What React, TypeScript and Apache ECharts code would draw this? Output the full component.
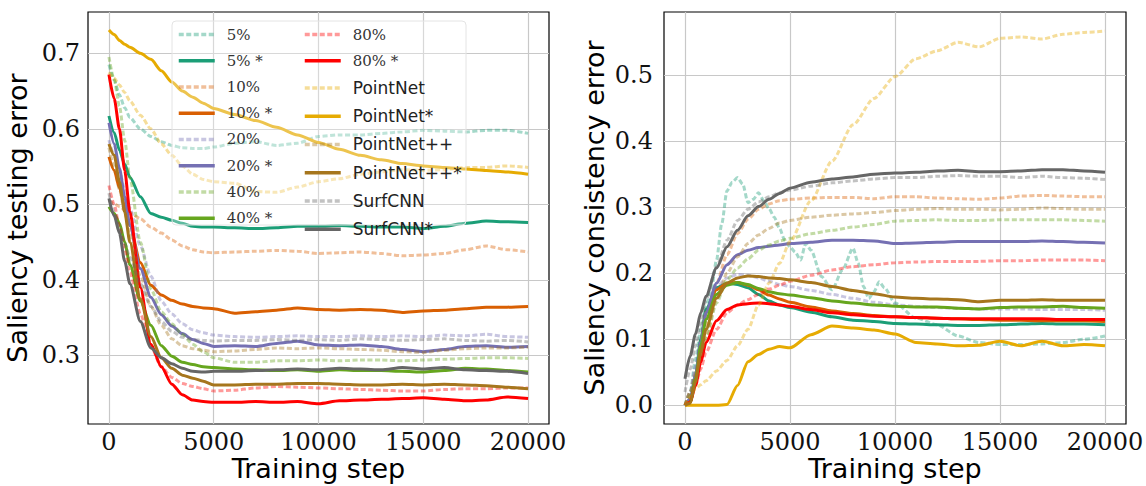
import React, { useEffect, useRef } from "react";
import * as echarts from "echarts";

// Training steps at which the curves are sampled
const STEPS = [
  0, 250, 500, 750, 1000, 1500, 2000, 2500, 3000, 3500, 4000, 4500, 5000, 6000, 7000, 8000,
  9000, 10000, 11000, 12000, 13000, 14000, 15000, 16000, 17000, 18000, 19000, 20000,
];
// Denser sampling for the oscillating 5% consistency curve
const STEPS_FINE = [
  0, 250, 500, 750, 1000, 1250, 1500, 1750, 2000, 2250, 2500, 2750, 3000, 3250, 3500, 3750,
  4000, 4250, 4500, 4750, 5000, 5250, 5500, 5750, 6000, 6500, 7000, 7500, 8000, 8250, 8500,
  8750, 9000, 9250, 9500, 10000, 11000, 12000, 13000, 14000, 15000, 16000, 17000, 18000,
  19000, 20000,
];

const X_TICKS = [0, 5000, 10000, 15000, 20000];
const Y_TICKS_TEST = [0.3, 0.4, 0.5, 0.6, 0.7];
const Y_TICKS_CONS = [0, 0.1, 0.2, 0.3, 0.4, 0.5];

const NAMES = [
  "5%", "5% *", "10%", "10% *", "20%", "20% *", "40%", "40% *",
  "80%", "80% *", "PointNet", "PointNet*", "PointNet++", "PointNet++*", "SurfCNN", "SurfCNN*",
];

// Saliency testing error
const TEST_5 = [0.685, 0.665, 0.645, 0.628, 0.615, 0.6, 0.59, 0.583, 0.578, 0.575, 0.574, 0.574, 0.576, 0.581, 0.583, 0.578, 0.581, 0.59, 0.592, 0.592, 0.594, 0.596, 0.598, 0.597, 0.596, 0.598, 0.598, 0.594];
const TEST_5S = [0.617, 0.595, 0.572, 0.553, 0.536, 0.51, 0.488, 0.483, 0.479, 0.475, 0.471, 0.47, 0.47, 0.469, 0.468, 0.469, 0.471, 0.471, 0.472, 0.471, 0.47, 0.47, 0.468, 0.471, 0.475, 0.478, 0.477, 0.476];
const TEST_10 = [0.505, 0.501, 0.497, 0.493, 0.489, 0.481, 0.47, 0.462, 0.453, 0.445, 0.44, 0.437, 0.436, 0.437, 0.438, 0.439, 0.438, 0.435, 0.436, 0.437, 0.435, 0.432, 0.433, 0.435, 0.44, 0.445, 0.44, 0.437];
const TEST_10S = [0.563, 0.545, 0.522, 0.498, 0.472, 0.423, 0.393, 0.38, 0.373, 0.368, 0.365, 0.363, 0.362, 0.356, 0.358, 0.36, 0.363, 0.361, 0.36, 0.361, 0.36, 0.357, 0.359, 0.36, 0.362, 0.364, 0.364, 0.365];
const TEST_20 = [0.585, 0.565, 0.545, 0.52, 0.495, 0.445, 0.405, 0.372, 0.355, 0.342, 0.334, 0.33, 0.327, 0.325, 0.324, 0.325, 0.326, 0.325, 0.325, 0.326, 0.325, 0.326, 0.325, 0.327, 0.326, 0.328, 0.325, 0.324];
const TEST_20S = [0.608, 0.58, 0.548, 0.51, 0.472, 0.415, 0.377, 0.354, 0.339, 0.329, 0.321, 0.316, 0.312, 0.313, 0.312, 0.316, 0.319, 0.314, 0.313, 0.314, 0.312, 0.308, 0.305, 0.308, 0.312, 0.313, 0.311, 0.312];
const TEST_40 = [0.695, 0.665, 0.63, 0.585, 0.535, 0.45, 0.388, 0.358, 0.342, 0.328, 0.315, 0.305, 0.297, 0.291, 0.291, 0.293, 0.293, 0.294, 0.293, 0.294, 0.294, 0.293, 0.294, 0.295, 0.296, 0.297, 0.297, 0.296];
const TEST_40S = [0.497, 0.488, 0.475, 0.45, 0.42, 0.372, 0.34, 0.313, 0.299, 0.291, 0.288, 0.285, 0.284, 0.282, 0.281, 0.28, 0.281, 0.279, 0.281, 0.28, 0.28, 0.279, 0.278, 0.28, 0.283, 0.282, 0.28, 0.278];
const TEST_80 = [0.525, 0.5, 0.47, 0.44, 0.41, 0.355, 0.312, 0.285, 0.271, 0.263, 0.259, 0.256, 0.253, 0.254, 0.257, 0.259, 0.258, 0.257, 0.256, 0.255, 0.254, 0.253, 0.253, 0.255, 0.256, 0.256, 0.257, 0.257];
const TEST_80S = [0.672, 0.64, 0.6, 0.545, 0.49, 0.39, 0.315, 0.285, 0.262, 0.248, 0.241, 0.239, 0.238, 0.238, 0.239, 0.238, 0.239, 0.236, 0.24, 0.241, 0.242, 0.243, 0.244, 0.242, 0.24, 0.241, 0.245, 0.243];
const TEST_PN = [0.675, 0.667, 0.658, 0.648, 0.637, 0.618, 0.6, 0.58, 0.565, 0.551, 0.54, 0.533, 0.53, 0.528, 0.517, 0.516, 0.523, 0.53, 0.534, 0.54, 0.543, 0.546, 0.545, 0.546, 0.549, 0.549, 0.551, 0.549];
const TEST_PNS = [0.731, 0.725, 0.717, 0.712, 0.708, 0.7, 0.692, 0.677, 0.662, 0.65, 0.642, 0.634, 0.627, 0.619, 0.611, 0.602, 0.592, 0.582, 0.573, 0.565, 0.559, 0.554, 0.551, 0.549, 0.547, 0.545, 0.543, 0.54];
const TEST_PNPP = [0.575, 0.55, 0.52, 0.49, 0.46, 0.405, 0.365, 0.34, 0.322, 0.313, 0.309, 0.307, 0.305, 0.306, 0.308, 0.31, 0.309, 0.31, 0.309, 0.308, 0.307, 0.305, 0.304, 0.307, 0.309, 0.31, 0.31, 0.311];
const TEST_PNPPS = [0.58, 0.565, 0.53, 0.49, 0.45, 0.375, 0.325, 0.297, 0.283, 0.274, 0.27, 0.266, 0.261, 0.261, 0.262, 0.262, 0.263, 0.263, 0.262, 0.261, 0.261, 0.262, 0.261, 0.262, 0.261, 0.26, 0.258, 0.256];
const TEST_SURF = [0.515, 0.49, 0.468, 0.448, 0.43, 0.395, 0.365, 0.345, 0.332, 0.324, 0.321, 0.32, 0.319, 0.32, 0.32, 0.321, 0.32, 0.321, 0.32, 0.322, 0.321, 0.32, 0.321, 0.322, 0.32, 0.319, 0.32, 0.318];
const TEST_SURFS = [0.508, 0.485, 0.462, 0.425, 0.395, 0.345, 0.31, 0.297, 0.289, 0.283, 0.279, 0.278, 0.279, 0.279, 0.28, 0.281, 0.282, 0.281, 0.283, 0.282, 0.281, 0.284, 0.282, 0.284, 0.281, 0.28, 0.279, 0.276];

// Saliency consistency error
const CONS_5 = [0, 0.02, 0.07, 0.115, 0.15, 0.175, 0.22, 0.275, 0.325, 0.338, 0.345, 0.335, 0.307, 0.312, 0.322, 0.31, 0.298, 0.285, 0.268, 0.25, 0.24, 0.232, 0.22, 0.245, 0.235, 0.195, 0.175, 0.205, 0.238, 0.215, 0.18, 0.162, 0.172, 0.187, 0.178, 0.155, 0.132, 0.122, 0.105, 0.095, 0.092, 0.092, 0.093, 0.095, 0.1, 0.105];
const CONS_5S = [0, 0.005, 0.045, 0.1, 0.145, 0.178, 0.185, 0.183, 0.178, 0.168, 0.158, 0.152, 0.148, 0.141, 0.134, 0.129, 0.127, 0.124, 0.123, 0.122, 0.121, 0.121, 0.122, 0.123, 0.124, 0.123, 0.123, 0.122];
const CONS_10 = [0, 0.02, 0.05, 0.085, 0.12, 0.185, 0.228, 0.26, 0.282, 0.297, 0.305, 0.31, 0.312, 0.314, 0.315, 0.315, 0.313, 0.316, 0.316, 0.314, 0.313, 0.312, 0.314, 0.317, 0.318, 0.317, 0.316, 0.316];
const CONS_10S = [0, 0.005, 0.04, 0.095, 0.14, 0.175, 0.185, 0.186, 0.182, 0.175, 0.167, 0.161, 0.156, 0.149, 0.143, 0.139, 0.136, 0.134, 0.133, 0.132, 0.131, 0.13, 0.129, 0.129, 0.128, 0.128, 0.128, 0.127];
const CONS_20 = [0, 0.02, 0.06, 0.1, 0.14, 0.18, 0.193, 0.198, 0.197, 0.193, 0.188, 0.183, 0.18, 0.174, 0.168, 0.162, 0.156, 0.152, 0.15, 0.148, 0.147, 0.146, 0.146, 0.146, 0.145, 0.145, 0.145, 0.144];
const CONS_20S = [0, 0.01, 0.045, 0.095, 0.14, 0.185, 0.213, 0.228, 0.235, 0.239, 0.241, 0.243, 0.245, 0.247, 0.25, 0.25, 0.249, 0.245, 0.246, 0.247, 0.248, 0.248, 0.248, 0.248, 0.249, 0.248, 0.247, 0.246];
const CONS_40 = [0, 0.015, 0.04, 0.07, 0.1, 0.155, 0.19, 0.208, 0.222, 0.235, 0.243, 0.249, 0.253, 0.26, 0.265, 0.27, 0.274, 0.279, 0.28, 0.281, 0.28, 0.28, 0.281, 0.281, 0.281, 0.281, 0.28, 0.279];
const CONS_40S = [0, 0.005, 0.04, 0.09, 0.13, 0.168, 0.182, 0.186, 0.183, 0.177, 0.172, 0.169, 0.167, 0.163, 0.158, 0.155, 0.152, 0.15, 0.149, 0.149, 0.147, 0.146, 0.148, 0.149, 0.149, 0.15, 0.148, 0.147];
const CONS_80 = [0, 0.01, 0.03, 0.055, 0.08, 0.115, 0.14, 0.152, 0.16, 0.168, 0.176, 0.182, 0.188, 0.197, 0.205, 0.21, 0.213, 0.216, 0.217, 0.218, 0.218, 0.218, 0.219, 0.219, 0.22, 0.22, 0.22, 0.219];
const CONS_80S = [0, 0.005, 0.03, 0.065, 0.095, 0.128, 0.145, 0.152, 0.154, 0.155, 0.154, 0.152, 0.15, 0.145, 0.14, 0.137, 0.135, 0.134, 0.133, 0.132, 0.131, 0.131, 0.131, 0.131, 0.131, 0.13, 0.13, 0.13];
const CONS_PN = [0, 0.012, 0.025, 0.031, 0.037, 0.052, 0.068, 0.09, 0.115, 0.152, 0.185, 0.215, 0.248, 0.31, 0.37, 0.425, 0.465, 0.498, 0.525, 0.537, 0.55, 0.543, 0.556, 0.558, 0.555, 0.562, 0.565, 0.567];
const CONS_PNS = [0, 0, 0, 0, 0, 0, 0.001, 0.03, 0.066, 0.077, 0.085, 0.089, 0.087, 0.107, 0.12, 0.117, 0.114, 0.108, 0.095, 0.093, 0.09, 0.091, 0.097, 0.09, 0.097, 0.09, 0.092, 0.09];
const CONS_PNPP = [0, 0.02, 0.045, 0.075, 0.105, 0.16, 0.2, 0.225, 0.245, 0.258, 0.268, 0.276, 0.28, 0.285, 0.288, 0.29, 0.292, 0.295, 0.297, 0.298, 0.297, 0.297, 0.296, 0.297, 0.299, 0.298, 0.297, 0.297];
const CONS_PNPPS = [0, 0.003, 0.035, 0.08, 0.115, 0.162, 0.185, 0.193, 0.196, 0.195, 0.193, 0.192, 0.19, 0.186, 0.18, 0.174, 0.169, 0.164, 0.162, 0.161, 0.16, 0.157, 0.159, 0.159, 0.16, 0.159, 0.159, 0.159];
const CONS_SURF = [0.02, 0.055, 0.09, 0.125, 0.16, 0.21, 0.25, 0.28, 0.297, 0.308, 0.316, 0.322, 0.326, 0.332, 0.337, 0.34, 0.343, 0.345, 0.345, 0.347, 0.348, 0.347, 0.347, 0.345, 0.347, 0.345, 0.344, 0.342];
const CONS_SURFS = [0.04, 0.075, 0.108, 0.14, 0.165, 0.208, 0.24, 0.265, 0.287, 0.301, 0.312, 0.321, 0.329, 0.338, 0.343, 0.346, 0.35, 0.352, 0.353, 0.355, 0.356, 0.354, 0.354, 0.355, 0.357, 0.357, 0.355, 0.353];

const TEST_VALUES = [
  TEST_5, TEST_5S, TEST_10, TEST_10S, TEST_20, TEST_20S, TEST_40, TEST_40S,
  TEST_80, TEST_80S, TEST_PN, TEST_PNS, TEST_PNPP, TEST_PNPPS, TEST_SURF, TEST_SURFS,
];
const CONS_VALUES = [
  CONS_5, CONS_5S, CONS_10, CONS_10S, CONS_20, CONS_20S, CONS_40, CONS_40S,
  CONS_80, CONS_80S, CONS_PN, CONS_PNS, CONS_PNPP, CONS_PNPPS, CONS_SURF, CONS_SURFS,
];

// Dark2-style palette: [r, g, b] per configuration
const BASE_RGB: [number, number, number][] = [
  [27, 158, 119],
  [217, 95, 2],
  [117, 112, 179],
  [102, 166, 30],
  [255, 0, 0],
  [230, 171, 2],
  [166, 118, 29],
  [102, 102, 102],
];

const SERIF = "'DejaVu Serif', serif";
const SANS = "'DejaVu Sans', sans-serif";

function buildSeries() {
  const series: any[] = [];
  NAMES.forEach((name, i) => {
    const [r, g, b] = BASE_RGB[Math.floor(i / 2)];
    const solid = i % 2 === 1;
    const color = solid ? `rgb(${r},${g},${b})` : `rgba(${r},${g},${b},0.4)`;
    const lineStyle = {
      color,
      width: 3,
      type: solid ? "solid" : [5, 2.5],
    };
    const common = {
      name,
      type: "line",
      symbol: "none",
      color,
      lineStyle,
      smooth: 0.25,
      smoothMonotone: "x",
      emphasis: { disabled: true },
      silent: true,
    };
    series.push({
      ...common,
      xAxisIndex: 0,
      yAxisIndex: 0,
      data: STEPS.map((s, k) => [s, TEST_VALUES[i][k]]),
    });
    const consSteps = i === 0 ? STEPS_FINE : STEPS;
    series.push({
      ...common,
      xAxisIndex: 1,
      yAxisIndex: 1,
      data: consSteps.map((s, k) => [s, CONS_VALUES[i][k]]),
    });
  });
  return series;
}

function xAxisOf(gridIndex: number) {
  return {
    gridIndex,
    type: "value",
    min: -1000,
    max: 21000,
    axisLine: { show: false },
    axisTick: { show: false, customValues: X_TICKS },
    axisLabel: {
      customValues: X_TICKS,
      formatter: (v: number) => String(v),
      fontFamily: SERIF,
      fontSize: 24,
      color: "#111",
      margin: 6,
    },
    splitLine: { show: true, lineStyle: { color: "#c8c8c8", width: 1.2 } },
    name: "Training step",
    nameLocation: "middle",
    nameGap: 31,
    nameMoveOverlap: false,
    nameTextStyle: { fontFamily: SANS, fontSize: 27, color: "#000" },
  };
}

function yAxisOf(gridIndex: number, min: number, max: number, ticks: number[], name: string, margin: number, nameGap: number) {
  return {
    gridIndex,
    type: "value",
    min,
    max,
    axisLine: { show: false },
    axisTick: { show: false, customValues: ticks },
    axisLabel: {
      customValues: ticks,
      formatter: (v: number) => v.toFixed(1),
      fontFamily: SERIF,
      fontSize: 24,
      color: "#111",
      margin,
    },
    splitLine: { show: true, lineStyle: { color: "#c8c8c8", width: 1.2 } },
    name,
    nameLocation: "middle",
    nameGap,
    nameMoveOverlap: false,
    nameTextStyle: { fontFamily: SANS, fontSize: 27, color: "#000" },
  };
}

const legendRich = {
  s: { fontFamily: SERIF, fontSize: 15, color: "#333", lineHeight: 14, padding: [0, 0, 0, 7] },
  n: { fontFamily: SANS, fontSize: 17, color: "#222", lineHeight: 14, padding: [0, 0, 0, 7] },
};

function legendOf(left: number, data: string[]) {
  return {
    left,
    top: 27,
    orient: "vertical",
    data,
    itemWidth: 36,
    itemHeight: 14,
    itemGap: 11.24,
    padding: 0,
    selectedMode: false,
    z: 6,
    // line samples only, no marker in the middle
    itemStyle: { color: "transparent", borderColor: "transparent", borderWidth: 0, opacity: 0 },
    lineStyle: { width: 3.5 },
    formatter: (n: string) => (n.includes("%") ? `{s|${n}}` : `{n|${n}}`),
    textStyle: { rich: legendRich },
  };
}

function gridOf(left: number, width: number) {
  return {
    left,
    top: 12,
    width,
    height: 412,
    containLabel: false,
    outerBoundsMode: "none",
    show: true,
    borderColor: "#000",
    borderWidth: 1.2,
    backgroundColor: "transparent",
  };
}

export default function App() {
  const ref = useRef<HTMLDivElement>(null);

  useEffect(() => {
    if (!ref.current) return;
    const chart = echarts.init(ref.current, null, { renderer: "svg" });
    chart.setOption({
      animation: false,
      backgroundColor: "#fff",
      grid: [gridOf(88, 461), gridOf(664, 462)],
      xAxis: [xAxisOf(0), xAxisOf(1)],
      yAxis: [
        yAxisOf(0, 0.2093, 0.7547, Y_TICKS_TEST, "Saliency testing error", 8, 57),
        yAxisOf(1, -0.0284, 0.5959, Y_TICKS_CONS, "Saliency consistency error", 11, 56),
      ],
      legend: [legendOf(177, NAMES.slice(0, 8)), legendOf(303, NAMES.slice(8))],
      graphic: [
        {
          type: "rect",
          z: 5,
          silent: true,
          shape: { x: 172, y: 21, width: 294, height: 204, r: 4 },
          style: { fill: "rgba(255,255,255,0.3)", stroke: "#e4e4e4", lineWidth: 1 },
        },
      ],
      series: buildSeries(),
    });
    return () => chart.dispose();
  }, []);

  return (
    <div
      ref={ref}
      style={{ position: "fixed", left: 0, top: 0, width: 1146, height: 486, background: "#fff" }}
    />
  );
}
